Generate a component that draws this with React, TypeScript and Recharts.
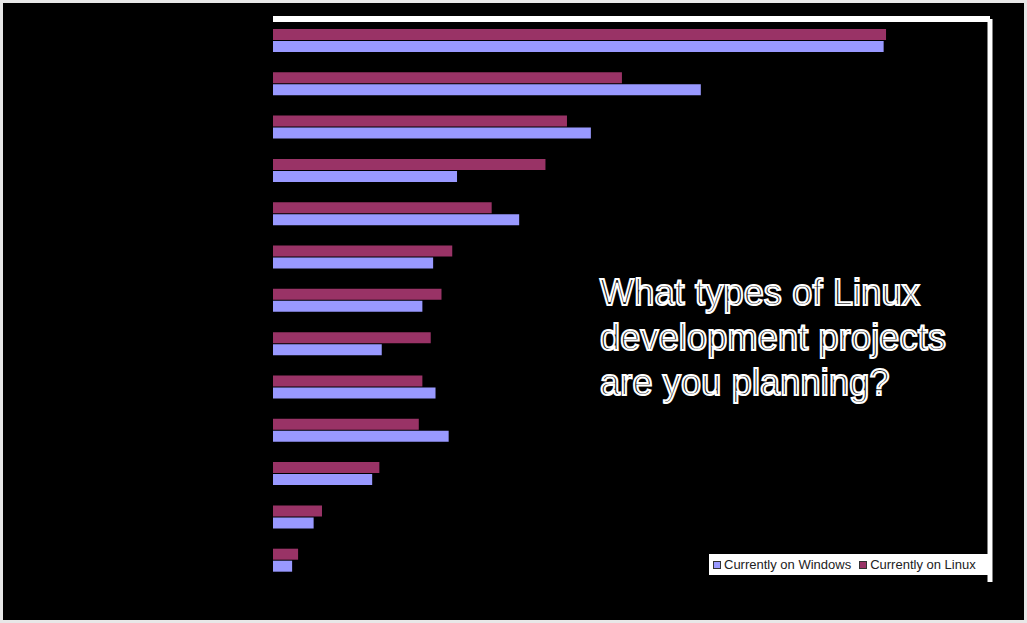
import React from 'react';
import { BarChart, Bar, XAxis, YAxis } from 'recharts';

// Category labels are not visible in the reference (black on black); placeholders.
const categories = ['1', '2', '3', '4', '5', '6', '7', '8', '9', '10', '11', '12', '13'];
const linuxValues = [51.3, 29.2, 24.6, 22.8, 18.3, 15.0, 14.1, 13.2, 12.5, 12.2, 8.9, 4.1, 2.1];
const windowsValues = [51.1, 35.8, 26.6, 15.4, 20.6, 13.4, 12.5, 9.1, 13.6, 14.7, 8.3, 3.4, 1.6];

const legendItems = [
  { name: 'Currently on Windows', color: '#9999FF' },
  { name: 'Currently on Linux', color: '#993366' },
];
const titleLines = ['What types of Linux', 'development projects', 'are you planning?'];

const data = categories.map((c, i) => ({ name: c, linux: linuxValues[i], windows: windowsValues[i] }));

export default function App() {
  return (
    <div style={{ position: 'fixed', left: 0, top: 0, width: 1027, height: 623, background: '#e8e8e8', overflow: 'hidden' }}>
      <div style={{ position: 'absolute', left: 3, top: 3, width: 1021, height: 617, background: '#000' }} />
      <div style={{ position: 'absolute', left: 0, top: 0 }}>
        <BarChart
          width={1027}
          height={623}
          data={data}
          layout="vertical"
          margin={{ top: 14, right: 33, bottom: 41, left: 273 }}
          barSize={11}
          barGap={1}
        >
          <XAxis
            type="number"
            orientation="top"
            domain={[0, 60]}
            height={5}
            tick={false}
            tickLine={false}
            axisLine={{ stroke: '#ffffff', strokeWidth: 6 }}
          />
          <YAxis
            type="category"
            dataKey="name"
            orientation="right"
            width={4}
            tick={false}
            tickLine={false}
            axisLine={{ stroke: '#ffffff', strokeWidth: 5 }}
          />
          <Bar dataKey="linux" name={legendItems[1].name} fill={legendItems[1].color} isAnimationActive={false} />
          <Bar dataKey="windows" name={legendItems[0].name} fill={legendItems[0].color} isAnimationActive={false} />
        </BarChart>
      </div>
      <div
        style={{
          position: 'absolute',
          left: 600,
          top: 270,
          fontFamily: '"Liberation Sans", Arial, sans-serif',
          fontSize: 36,
          lineHeight: '45px',
          color: '#111',
          WebkitTextStroke: '2px #ffffff',
          letterSpacing: '0.2px',
          whiteSpace: 'nowrap',
        }}
      >
        {titleLines.map((l) => (
          <div key={l}>{l}</div>
        ))}
      </div>
      <div
        style={{
          position: 'absolute',
          left: 709,
          top: 554,
          width: 279,
          height: 21,
          background: '#ffffff',
          display: 'flex',
          alignItems: 'center',
          boxSizing: 'border-box',
          paddingLeft: 4,
          fontFamily: '"Liberation Sans", Arial, sans-serif',
          fontSize: 13,
          color: '#222',
        }}
      >
        {legendItems.map((it) => (
          <span key={it.name} style={{ display: 'flex', alignItems: 'center', marginRight: 8 }}>
            <span style={{ width: 6, height: 6, background: it.color, border: '1px solid #333', marginRight: 3 }} />
            {it.name}
          </span>
        ))}
      </div>
    </div>
  );
}
